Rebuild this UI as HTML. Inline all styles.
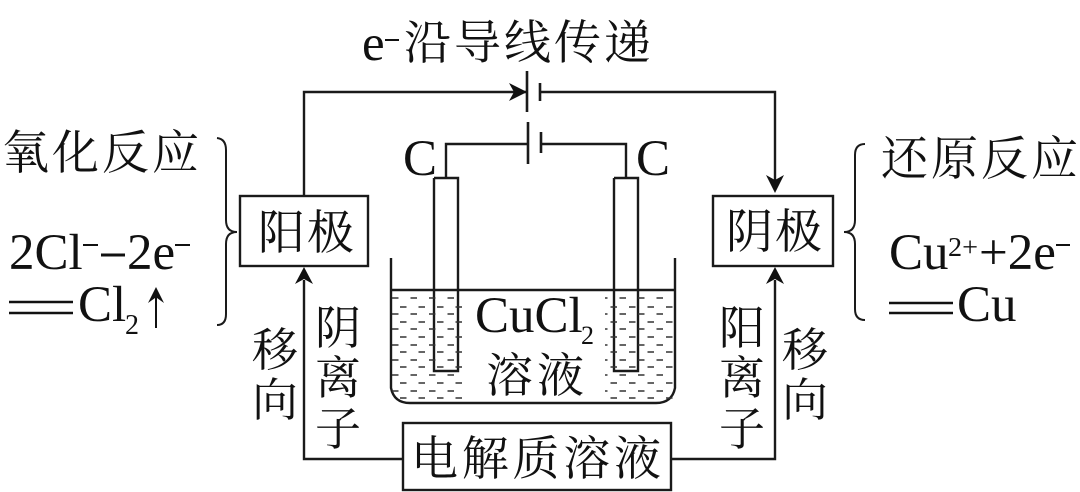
<!DOCTYPE html>
<html><head><meta charset="utf-8">
<style>
html,body{margin:0;padding:0;background:#fff}
svg{display:block}
text{font-family:"Liberation Serif","Noto Serif CJK SC",serif;fill:#111;font-size:47px}
.l{font-size:51px}
.s{font-size:28px}
.v{font-size:46px}
</style></head>
<body>
<svg width="1080" height="492" viewBox="0 0 1080 492" xmlns="http://www.w3.org/2000/svg">
<g fill="none" stroke="#1a1a1a" stroke-width="2.4">
<!-- wires -->
<path d="M304 196V92H527"/>
<path d="M540 92H775V188"/>
<path d="M527 71V112M540 83V101" stroke-width="2.6"/>
<path d="M528 122V164M541 132V153" stroke-width="2.6"/>
<path d="M446 178V144H528M541 144H626V178"/>
<!-- boxes -->
<rect x="240" y="196" width="128" height="70"/>
<rect x="713" y="196" width="120" height="70"/>
<rect x="403" y="423" width="268" height="67"/>
<path d="M304 280V459H403M671 459H775V280"/>
<!-- beaker -->
<path d="M391 258V388Q394 403 410 403H656Q672 403 675 388V258"/>
<path d="M391 290H675"/>
<path d="M434 178V371H458V178H434"/>
<path d="M614 178V371H638V178H614"/>
<!-- braces -->
<path d="M217 138Q226 139 226 150V220Q226 232 237 232Q226 232 226 244V314Q226 325 217 325" stroke-width="2"/>
<path d="M865 144Q855 144 855 155V220Q855 232 844 232Q855 232 855 244V309Q855 320 865 320" stroke-width="2"/>
</g>
<!-- arrowheads -->
<g fill="#111">
<path d="M527 92L509 83L514 92L509 101Z"/>
<path d="M775 193L766 175L775 180L784 175Z"/>
<path d="M304 267L295 284L304 279L313 284Z"/>
<path d="M775 267L766 284L775 279L784 284Z"/>
<path d="M156 287L148 303L155 298V328H157V298L164 303Z"/>
</g>
<!-- dashes -->
<g stroke="#333" stroke-width="1.6" stroke-dasharray="6.5 12" fill="none">
<path d="M392 298H462M392 314H462M392 329H462M392 345H462M392 360H462M392 375H462M392 391H462"/>
<path d="M400 307H462M400 322H462M400 337H462M400 352H462M400 367H462M400 383H462M400 398H462"/>
<path d="M605 298H674M605 314H674M605 329H674M605 345H674M605 360H674M605 375H674M605 391H674" stroke-dashoffset="4"/>
<path d="M605 307H674M605 322H674M605 337H674M605 352H674M605 367H674M605 383H674M605 398H674" stroke-dashoffset="13"/>
</g>
<!-- texts -->
<text x="362" y="60" class="l">e</text>
<path d="M385 40H399" stroke="#111" stroke-width="2"/>
<text x="404" y="59" textLength="247">沿导线传递</text>
<text x="403" y="175" class="l">C</text>
<text x="636" y="175" class="l">C</text>
<text x="2" y="169" textLength="197">氧化反应</text>
<text x="881" y="175" textLength="197">还原反应</text>
<text x="258" y="249" textLength="96">阳极</text>
<text x="726" y="248" textLength="96">阴极</text>
<text x="411" y="475" textLength="250">电解质溶液</text>
<text x="9" y="269" class="l">2Cl</text>
<path d="M83 245H98" stroke="#111" stroke-width="2"/>
<path d="M101 255H125" stroke="#111" stroke-width="3"/>
<text x="127" y="269" class="l">2e</text>
<path d="M175 245H190" stroke="#111" stroke-width="2"/>
<path d="M9 302H73M9 313H73" stroke="#111" stroke-width="2.4"/>
<text x="78" y="321" class="l">Cl</text>
<text x="125" y="334" class="s">2</text>
<text x="889" y="269" class="l">Cu</text>
<text x="948" y="256" style="font-size:27px" textLength="30" lengthAdjust="spacingAndGlyphs">2+</text>
<text x="979" y="269" class="l">+2e</text>
<path d="M1056 245H1070" stroke="#111" stroke-width="2"/>
<path d="M889 303H953M889 313H953" stroke="#111" stroke-width="2.4"/>
<text x="957" y="321" class="l">Cu</text>
<text x="475" y="332" class="l">CuCl</text>
<text x="581" y="344" style="font-size:26px">2</text>
<text x="486" y="392" textLength="98">溶液</text>
<text x="315" y="344" class="v">阴</text>
<text x="315" y="394" class="v">离</text>
<text x="315" y="445" class="v">子</text>
<text x="252" y="366" class="v">移</text>
<text x="252" y="416" class="v">向</text>
<text x="719" y="344" class="v">阳</text>
<text x="719" y="394" class="v">离</text>
<text x="719" y="445" class="v">子</text>
<text x="782" y="366" class="v">移</text>
<text x="782" y="416" class="v">向</text>
</svg>
</body></html>
